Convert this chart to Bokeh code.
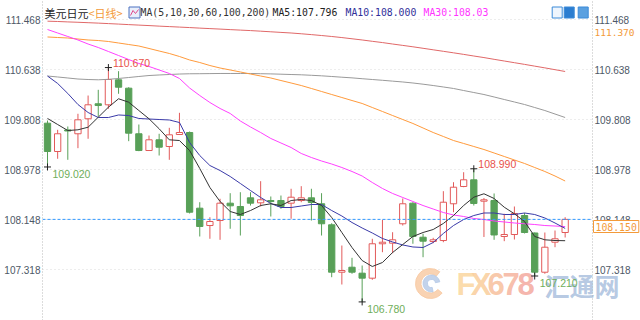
from bokeh.plotting import figure
from bokeh.models import (Range1d, LinearAxis, FixedTicker, NumeralTickFormatter,
                          Label, ColumnDataSource)
from bokeh.core.properties import value
from bokeh.embed import file_html
from bokeh.resources import INLINE

# ---------------- data ----------------
opens = [109.747, 109.277, 109.634, 109.571, 109.820, 110.069, 110.052, 110.467, 110.328, 109.571,
         109.293, 109.471, 109.360, 109.559, 109.592, 108.336, 108.048, 108.131, 108.419, 108.364,
         108.508, 108.425, 108.463, 108.463, 108.419, 108.463, 108.508, 108.409, 108.060, 107.273,
         107.356, 107.257, 107.174, 107.745, 107.755, 108.077, 108.419, 107.854, 107.783, 107.799,
         108.409, 108.696, 108.807, 108.452, 108.463, 107.866, 107.899, 108.214, 107.924, 107.273,
         107.771, 107.932]
highs = [109.791, 109.637, 109.692, 109.903, 110.206, 110.301, 110.670, 110.610, 110.344, 109.725,
         109.542, 109.571, 109.670, 109.919, 109.609, 108.435, 108.186, 108.492, 108.585, 108.601,
         108.601, 108.784, 108.530, 108.546, 108.658, 108.701, 108.658, 108.585, 108.086, 107.716,
         107.512, 107.384, 107.828, 108.143, 107.937, 108.497, 108.435, 107.911, 107.844, 108.618,
         108.767, 108.933, 108.990, 108.505, 108.580, 108.243, 108.364, 108.256, 107.932, 107.932,
         107.965, 108.186]
lows = [109.020, 109.156, 109.139, 109.332, 109.488, 109.858, 109.986, 110.235, 109.448, 109.282,
        109.285, 109.210, 109.139, 109.551, 108.248, 107.866, 107.828, 107.811, 107.994, 107.882,
        108.380, 108.364, 108.198, 108.326, 108.160, 108.435, 108.131, 107.882, 107.190, 107.069,
        107.247, 106.780, 107.147, 107.605, 107.589, 108.048, 107.745, 107.522, 107.755, 107.771,
        108.269, 108.684, 108.380, 107.858, 107.811, 107.788, 107.816, 107.916, 107.210, 107.247,
        107.688, 107.849]
closes = [109.277, 109.571, 109.617, 109.803, 110.052, 110.040, 110.472, 110.344, 109.581, 109.293,
          109.471, 109.348, 109.554, 109.592, 108.269, 108.032, 108.115, 108.419, 108.375, 108.214,
          108.419, 108.475, 108.447, 108.364, 108.518, 108.508, 108.430, 108.077, 107.273, 107.301,
          107.273, 107.174, 107.745, 107.771, 107.811, 108.409, 107.866, 107.788, 107.811, 108.435,
          108.684, 108.807, 108.414, 108.475, 107.891, 107.899, 108.248, 107.932, 107.273, 107.688,
          107.828, 108.150]

ma5 = [109.825, 109.725, 109.625, 109.637, 109.680, 109.846, 110.012, 110.152, 110.095, 109.957,
       109.820, 109.654, 109.471, 109.459, 109.293, 108.995, 108.679, 108.447, 108.281, 108.231,
       108.297, 108.380, 108.409, 108.380, 108.463, 108.480, 108.463, 108.380, 108.181, 107.932,
       107.683, 107.467, 107.368, 107.434, 107.600, 107.733, 107.866, 107.932, 107.982, 108.082,
       108.214, 108.380, 108.518, 108.575, 108.497, 108.352, 108.243, 108.115, 107.866, 107.811,
       107.799, 107.796]
ma10 = [110.530, 110.406, 110.240, 110.057, 109.924, 109.841, 109.841, 109.883, 109.874, 109.825,
        109.816, 109.808, 109.800, 109.758, 109.426, 109.210, 109.044, 108.961, 108.862, 108.746,
        108.629, 108.513, 108.414, 108.347, 108.347, 108.372, 108.397, 108.397, 108.297, 108.206,
        108.098, 108.007, 107.924, 107.833, 107.775, 107.725, 107.692, 107.683, 107.766, 107.916,
        108.048, 108.148, 108.214, 108.256, 108.256, 108.231, 108.231, 108.256, 108.231, 108.173,
        108.090, 108.000]
ma30 = [111.302, 111.244, 111.186, 111.128, 111.061, 111.003, 110.937, 110.870, 110.804, 110.738,
        110.688, 110.630, 110.572, 110.489, 110.331, 110.206, 110.090, 109.991, 109.908, 109.783,
        109.684, 109.592, 109.493, 109.418, 109.343, 109.244, 109.177, 109.119, 109.069, 109.011,
        108.945, 108.870, 108.762, 108.663, 108.580, 108.513, 108.447, 108.380, 108.322, 108.264,
        108.223, 108.198, 108.165, 108.148, 108.123, 108.107, 108.090, 108.077, 108.065, 108.048,
        108.040, 108.030]
ma60 = [111.178, 111.169, 111.161, 111.144, 111.128, 111.119, 111.103, 111.078, 111.053, 111.028,
        110.987, 110.945, 110.904, 110.854, 110.796, 110.754, 110.704, 110.663, 110.630, 110.597,
        110.563, 110.530, 110.497, 110.455, 110.414, 110.372, 110.323, 110.273, 110.223, 110.173,
        110.123, 110.074, 110.007, 109.941, 109.874, 109.808, 109.742, 109.667, 109.592, 109.526,
        109.459, 109.410, 109.360, 109.310, 109.252, 109.194, 109.136, 109.078, 109.011, 108.945,
        108.870, 108.787]
ma100 = [110.530, 110.514, 110.497, 110.480, 110.472, 110.467, 110.475, 110.489, 110.505, 110.522,
         110.538, 110.547, 110.555, 110.563, 110.567, 110.568, 110.570, 110.572, 110.572, 110.572,
         110.572, 110.568, 110.565, 110.560, 110.555, 110.550, 110.542, 110.533, 110.522, 110.510,
         110.499, 110.485, 110.472, 110.459, 110.445, 110.431, 110.414, 110.394, 110.372, 110.348,
         110.323, 110.289, 110.256, 110.223, 110.182, 110.140, 110.099, 110.057, 110.007, 109.957,
         109.899, 109.841]
ma200 = [111.440, 111.435, 111.428, 111.422, 111.415, 111.408, 111.400, 111.392, 111.383, 111.375,
         111.367, 111.358, 111.350, 111.342, 111.334, 111.325, 111.317, 111.309, 111.300, 111.292,
         111.284, 111.274, 111.264, 111.254, 111.244, 111.231, 111.217, 111.202, 111.186, 111.168,
         111.148, 111.128, 111.106, 111.085, 111.061, 111.038, 111.015, 110.990, 110.965, 110.940,
         110.915, 110.889, 110.862, 110.836, 110.807, 110.779, 110.751, 110.723, 110.694, 110.665,
         110.635, 110.605]

tick_values = [107.318, 108.148, 108.978, 109.808, 110.638, 111.468]
last_price = 108.150
ma60_tag = 111.370
high_marks = [6, 42]          # candle indices of marked highs
low_marks = [0, 31, 48]       # candle indices of marked lows

title_name = "美元日元"
period_tag = "<日线>"
ma_spec = "MA(5,10,30,60,100,200)"
ma_texts = ["MA5:107.796", "MA10:108.000", "MA30:108.03"]
wm_latin = ["F", "X", "6", "7", "8"]
wm_cjk = "汇通网"

# ---------------- layout helpers (pixel -> data, decorations only) ----------------
X0, STEP = 47.0, 10.15
YTOP, YPX = 111.7834, 0.0166
def X(px):
    return (px - X0) / STEP
def Y(py):
    return YTOP - YPX * py

n = len(closes)
idx = list(range(n))
RED, GREEN = "#e25a5a", "#58a058"
up = [c >= o for o, c in zip(opens, closes)]
src = ColumnDataSource(dict(
    x=idx, o=opens, h=highs, l=lows, c=closes,
    top=[max(o, c) for o, c in zip(opens, closes)],
    bot=[min(o, c) for o, c in zip(opens, closes)],
    line=[RED if u else GREEN for u in up],
    fill=["#ffffff" if u else GREEN for u in up],
))

p = figure(width=640, height=320, output_backend="svg", toolbar_location=None,
           x_range=Range1d(X(42), X(640)), y_range=Range1d(Y(320), Y(0)),
           x_axis_location=None, y_axis_location="left",
           min_border_left=42, min_border_right=0, min_border_top=0, min_border_bottom=0)
p.outline_line_color = None
p.background_fill_color = "white"
p.border_fill_color = "white"
p.grid.visible = False

ticker = FixedTicker(ticks=tick_values)
def style_axis(ax):
    ax.ticker = ticker
    ax.formatter = NumeralTickFormatter(format="0.000")
    ax.major_label_text_font = "Liberation Sans"
    ax.major_label_text_font_size = "10px"
    ax.major_label_text_color = "#4d5866"
    ax.axis_line_color = "#b8b8b8"
    ax.axis_line_dash = "1 2"
    ax.major_tick_line_color = None
    ax.minor_tick_line_color = None
    ax.major_tick_out = 0
    ax.major_tick_in = 0
    ax.major_label_standoff = 2
style_axis(p.yaxis[0])
rax = LinearAxis(fixed_location=X(592))
style_axis(rax)
p.add_layout(rax, "right")

# faint dotted price grid inside the plotting area
p.segment(x0=[X(42)] * len(tick_values), y0=tick_values, x1=[X(592)] * len(tick_values),
          y1=tick_values, line_color="#dadada", line_dash="1 3", line_width=1)

# ---------------- watermark ----------------
p.annular_wedge(x=[X(430)], y=[Y(283)], inner_radius=9.5, outer_radius=15,
                inner_radius_units="screen", outer_radius_units="screen",
                start_angle=0.9, end_angle=5.6, color="#f8c8a0", alpha=0.8)
p.annular_wedge(x=[X(431)], y=[Y(283)], inner_radius=4, outer_radius=8.5,
                inner_radius_units="screen", outer_radius_units="screen",
                start_angle=0.2, end_angle=4.9, color="#b4c8e6", alpha=0.8)
wm_cols = ["#fbd8a2", "#fad0a0", "#f8c2a0", "#f6b6a2", "#f4aca2"]
p.text(x=[X(465.5 + 15 * k) for k in range(5)], y=[Y(283.5)] * 5, text=wm_latin,
       text_font=value("Liberation Sans"), text_font_style="bold",
       text_font_size=value("31px"), text_align="center", text_baseline="middle",
       text_color=wm_cols, text_alpha=0.9)
p.text(x=[X(544)], y=[Y(284)], text=[wm_cjk], text_font=value("Noto Sans CJK SC"),
       text_font_style="bold", text_font_size=value("25px"), text_align="left",
       text_baseline="middle", text_color="#aec3e0", text_alpha=0.9)

# ---------------- candles ----------------
p.segment(x0="x", y0="l", x1="x", y1="h", line_color="line", line_width=1, source=src)
p.vbar(x="x", width=0.62, top="top", bottom="bot", fill_color="fill", line_color="line",
       line_width=1, source=src)

# ---------------- moving averages ----------------
for vals, col in [(ma200, "#e06868"), (ma100, "#9a9a9a"), (ma60, "#ff9a3c"),
                  (ma30, "#ff40ff"), (ma10, "#3a3aa8"), (ma5, "#333333")]:
    p.line(idx, vals, line_color=col, line_width=1)

# current price dashed line across the plotting area
p.segment(x0=[X(42)], y0=[last_price], x1=[X(592)], y1=[last_price],
          line_color="#3399ff", line_dash="3 2", line_width=1)

# ---------------- extreme markers ----------------
p.scatter(x=high_marks + low_marks,
          y=[highs[i] for i in high_marks] + [lows[i] for i in low_marks],
          marker="cross", size=7, line_color="#222222", line_width=1)
p.text(x=high_marks, y=[highs[i] for i in high_marks],
       text=["%.3f" % highs[i] for i in high_marks], x_offset=4.5, y_offset=-5,
       text_font=value("Liberation Sans"), text_font_size=value("10.5px"),
       text_align="left", text_baseline="middle", text_color="#e8524a")
p.text(x=low_marks, y=[lows[i] for i in low_marks],
       text=["%.3f" % lows[i] for i in low_marks], x_offset=5, y_offset=7,
       text_font=value("Liberation Sans"), text_font_size=value("10.5px"),
       text_align="left", text_baseline="middle", text_color="#6fae5a")

# ---------------- header ----------------
def lab(px, py, txt, color, font="DejaVu Sans Mono", size="9.8px", **kw):
    p.add_layout(Label(x=X(px), y=Y(py), text=txt, text_color=color, text_font=font,
                       text_font_size=size, text_align="left", text_baseline="middle", **kw))

lab(44, 12, title_name, "#222222", font="Noto Sans CJK SC", size="11px")
lab(88, 12, period_tag, "#f39a3a", font="Noto Sans CJK SC", size="11px")
p.rect(x=[X(134)], y=[Y(12)], width=11, height=11, width_units="screen", height_units="screen",
       fill_color="#e8eefa", line_color="#4a70c0")
p.line([X(130), X(132.5), X(135), X(138)], [Y(15), Y(10), Y(13), Y(9)], line_color="#e04a8a")
lab(140, 12, ma_spec, "#333333")
lab(272, 12, ma_texts[0], "#222222")
lab(345, 12, ma_texts[1], "#2f2f9a")
lab(423, 12, ma_texts[2], "#ff33ff")

p.rect(x=[X(556.7), X(568.7), X(582.7)], y=[Y(12)] * 3, width=10, height=11,
       width_units="screen", height_units="screen",
       fill_color=["#eef5fd", "#2b7dd0", "#5aa0e0"], line_color="#3a8ad8")

# ---------------- right-side tags ----------------
lab(594, 31.5, "%.3f" % ma60_tag, "#f39a3a", size="9.5px")
p.add_layout(Label(x=X(593), y=Y(226), text="%.3f" % last_price, text_color="#f39a3a",
                   text_font="DejaVu Sans Mono", text_font_size="9.8px", text_align="left",
                   text_baseline="middle", border_line_color="#f39a3a",
                   background_fill_color="white", padding=2))

open("out.html", "w").write(file_html(p, INLINE))
